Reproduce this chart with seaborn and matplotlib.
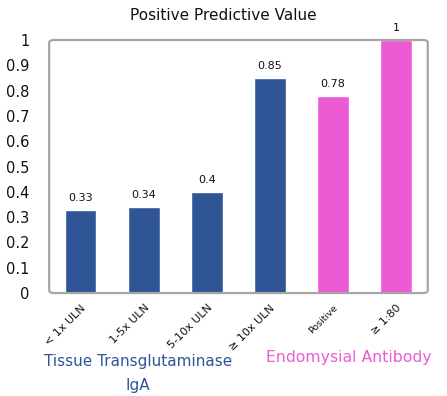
import matplotlib
matplotlib.use("Agg")
import matplotlib.pyplot as plt
import seaborn as sns
import pandas as pd
from matplotlib.patches import FancyBboxPatch

categories = ["< 1x ULN", "1-5x ULN", "5-10x ULN", "\u2265 10x ULN", "Positive", "\u2265 1:80"]
values = [0.33, 0.34, 0.4, 0.85, 0.78, 1.0]
groups = ["TTG", "TTG", "TTG", "TTG", "EMA", "EMA"]
yticks = [0, 0.1, 0.2, 0.3, 0.4, 0.5, 0.6, 0.7, 0.8, 0.9, 1]
ytick_labels = ["0", "0.1", "0.2", "0.3", "0.4", "0.5", "0.6", "0.7", "0.8", "0.9", "1"]

BLUE = "#2F5597"
PINK = "#EC5BD4"

sns.set_theme(style="white")
plt.rcParams['font.family'] = ['DejaVu Sans']

df = pd.DataFrame({"cat": categories, "val": values, "grp": groups})

fig = plt.figure(figsize=(4.47, 3.96), dpi=100)
ax = fig.add_axes([0.110, 0.260, 0.847, 0.639])
sns.barplot(data=df, x="cat", y="val", hue="grp", palette={"TTG": BLUE, "EMA": PINK},
            dodge=False, width=0.5, legend=False, ax=ax, saturation=1)

ax.set_ylim(0, 1)
ax.set_xlim(-0.5, 5.5)
ax.set_yticks(yticks)
ax.set_yticklabels(ytick_labels, fontsize=10.5, color="#111111")
ax.set_xticks(range(len(categories)))
ax.set_xticklabels(categories, rotation=45, ha="right", rotation_mode="anchor", fontsize=8, color="#111111")
for t in ax.get_xticklabels():
    if t.get_text() == "Positive":
        t.set_fontsize(6.8)
ax.tick_params(axis="y", length=0, pad=14)
ax.tick_params(axis="x", length=0, pad=7)
ax.set_xlabel("")
ax.set_ylabel("")
for s in ax.spines.values():
    s.set_visible(False)

for i, v in enumerate(values):
    lab = f"{v:g}"
    ax.annotate(lab, (i, v), xytext=(0, 5), textcoords="offset points",
                ha="center", va="bottom", fontsize=8, color="#111111", annotation_clip=False)

box = FancyBboxPatch((0, 0), 1, 1, boxstyle="round,pad=0,rounding_size=0.012",
                     transform=ax.transAxes, fill=False, edgecolor="#A6A6A6", linewidth=1.6,
                     clip_on=False, zorder=5)
ax.add_patch(box)

fig.text(0.5, 0.962, "Positive Predictive Value", ha="center", va="center", fontsize=11, color="#111111")
fig.text(0.309, 0.057, "Tissue Transglutaminase\nIgA", ha="center", va="center", fontsize=11,
         color=BLUE, linespacing=1.75)
fig.text(0.78, 0.096, "Endomysial Antibody", ha="center", va="center", fontsize=11.3, color=PINK)

fig.savefig("out.png", dpi=100)
